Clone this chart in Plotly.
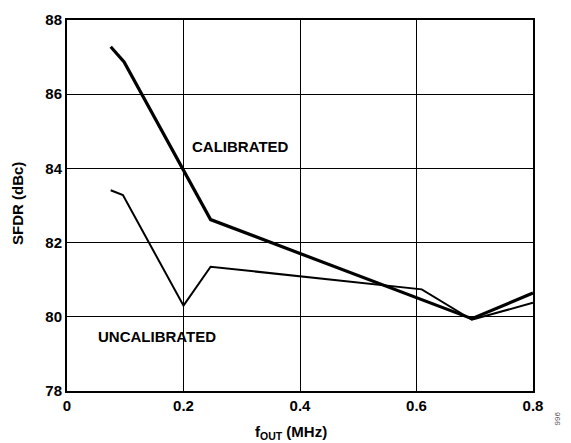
import plotly.graph_objects as go

# Data
cal_x = [0.075, 0.098, 0.2465, 0.60, 0.695, 0.80]
cal_y = [87.28, 86.87, 82.62, 80.52, 79.95, 80.64]

uncal_x = [0.075, 0.096, 0.200, 0.2465, 0.609, 0.695, 0.80]
uncal_y = [83.41, 83.28, 80.30, 81.35, 80.74, 79.92, 80.38]

x_ticks = [0, 0.2, 0.4, 0.6, 0.8]
x_tick_labels = ["0", "0.2", "0.4", "0.6", "0.8"]
y_ticks = [78, 80, 82, 84, 86, 88]

FONT = "Liberation Sans, Arial, sans-serif"
W, H = 571, 443
ML, MR, MT, MB = 67, 38, 20, 52
PW, PH = W - ML - MR, H - MT - MB


def px_x(px):
    return (px - ML) / PW


def px_y(py):
    return (H - MB - py) / PH


fig = go.Figure()
fig.add_trace(go.Scatter(x=cal_x, y=cal_y, mode="lines",
                         line=dict(color="black", width=3.2), showlegend=False))
fig.add_trace(go.Scatter(x=uncal_x, y=uncal_y, mode="lines",
                         line=dict(color="black", width=2), showlegend=False))

fig.update_layout(
    width=W, height=H,
    margin=dict(l=ML, r=MR, t=MT, b=MB),
    plot_bgcolor="white", paper_bgcolor="white",
    font=dict(family=FONT, color="black"),
    xaxis=dict(range=[0, 0.8], tickvals=x_ticks, ticktext=[f"<b>{t}</b>" for t in x_tick_labels],
               showgrid=True, gridcolor="black", gridwidth=1,
               showline=True, linecolor="black", linewidth=2, mirror=True,
               ticks="", zeroline=False, tickfont=dict(size=15, family=FONT)),
    yaxis=dict(range=[78, 88], tickvals=y_ticks, ticktext=[f"<b>{t}</b>" for t in y_ticks],
               showgrid=True, gridcolor="black", gridwidth=1,
               showline=True, linecolor="black", linewidth=2, mirror=True,
               ticks="", zeroline=False, tickfont=dict(size=15, family=FONT)),
    annotations=[
        dict(x=0.297, y=84.6, xref="x", yref="y", text="<b>CALIBRATED</b>",
             showarrow=False, font=dict(size=15, family=FONT)),
        dict(x=0.155, y=79.48, xref="x", yref="y", text="<b>UNCALIBRATED</b>",
             showarrow=False, font=dict(size=15, family=FONT)),
        dict(x=px_x(291), y=px_y(432), xref="paper", yref="paper",
             text="<b>f<sub>OUT</sub> (MHz)</b>",
             showarrow=False, yanchor="middle", font=dict(size=15, family=FONT)),
        dict(x=px_x(17), y=px_y(204), xref="paper", yref="paper", text="<b>SFDR (dBc)</b>",
             showarrow=False, textangle=-90, xanchor="center", yanchor="middle",
             font=dict(size=15, family=FONT)),
        dict(x=px_x(563), y=px_y(428), xref="paper", yref="paper", text="996",
             showarrow=False, textangle=-90, font=dict(size=8, family=FONT, color="#555555")),
    ],
)

fig.write_html("out.html", config={"displayModeBar": False},
               post_script="document.body.style.margin='0';")
